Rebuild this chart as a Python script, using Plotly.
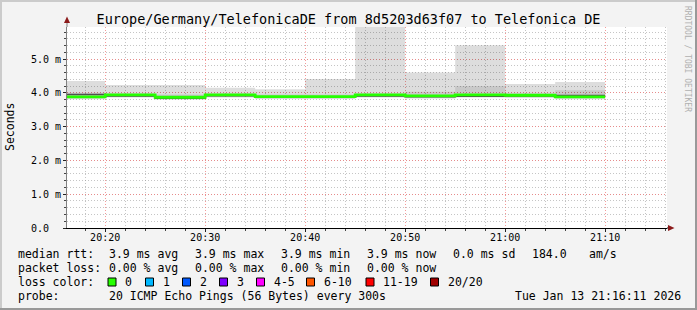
import plotly.graph_objects as go

# ---------------- data ----------------
title_text = "Europe/Germany/TelefonicaDE from 8d5203d63f07 to Telefonica DE"
day = "2026-01-13 "
seg_start = ["20:15", "20:20", "20:25", "20:30", "20:35", "20:40",
             "20:45", "20:50", "20:55", "21:00", "21:05"]
seg_end = "21:10"
median_ms = [3.88, 3.94, 3.87, 3.94, 3.89, 3.89, 3.94, 3.91, 3.94, 3.93, 3.88]
smoke_min_ms = [3.81, 3.86, 3.80, 3.86, 3.82, 3.82, 3.86, 3.83, 3.86, 3.85, 3.81]
smoke_max_ms = [4.35, 4.23, 4.23, 4.15, 4.11, 4.41, 6.30, 4.60, 5.41, 4.26, 4.32]
inner_lo_ms = [3.84, 3.88, 3.82, 3.88, 3.84, 3.84, 3.88, 3.86, 3.88, 3.88, 3.85]
inner_hi_ms = [4.00, 3.99, 3.95, 3.99, 3.95, 3.95, 3.99, 4.03, 4.20, 3.99, 4.08]
dark_ms = [3.95, 3.91, 3.84, 3.92, 3.87, 3.87, 3.91, 3.89, 3.90, 3.91, 3.92]

y_tickvals = [0, 1, 2, 3, 4, 5]
y_ticktext = ["0.0\u00a0\u00a0", "1.0 m", "2.0 m", "3.0 m", "4.0 m", "5.0 m"]

legend_rtt = ["median rtt:", "3.9 ms avg", "3.9 ms max", "3.9 ms min",
              "3.9 ms now", "0.0 ms sd", "184.0", "am/s"]
legend_loss = ["packet loss:", "0.00 % avg", "0.00 % max", "0.00 % min", "0.00 % now"]
loss_labels = ["0", "1", "2", "3", "4-5", "6-10", "11-19", "20/20"]
loss_colors = ["#26ff00", "#00b8ff", "#0059ff", "#7e00ff",
               "#ff00ff", "#ff5500", "#ff0000", "#a00000"]
probe_label = "probe:"
probe_text = "20 ICMP Echo Pings (56 Bytes) every 300s"
stamp_text = "Tue Jan 13 21:16:11 2026"
loss_color_label = "loss color:"
credit_text = "RRDTOOL / TOBI OETIKER"

# ---------------- geometry helpers (pixel -> paper) ----------------
W, H = 697, 310
PL, PR, PT, PB = 67, 667, 27, 228


def fx(px):
    return (px - PL) / (PR - PL)


def fy(py):
    return (PB - py) / (PB - PT)


MONO = "DejaVu Sans Mono"

xs = [day + s for s in seg_start] + [day + seg_end]


def step(vals):
    return list(vals) + [vals[-1]]


fig = go.Figure()

# smoke outer
fig.add_trace(go.Scatter(x=xs, y=step(smoke_min_ms), mode="lines", line_shape="hv",
                         line=dict(width=0), hoverinfo="skip", showlegend=False))
fig.add_trace(go.Scatter(x=xs, y=step(smoke_max_ms), mode="lines", line_shape="hv",
                         line=dict(width=0), fill="tonexty",
                         fillcolor="rgba(0,0,0,0.135)", hoverinfo="skip", showlegend=False))
# smoke inner
fig.add_trace(go.Scatter(x=xs, y=step(inner_lo_ms), mode="lines", line_shape="hv",
                         line=dict(width=0), hoverinfo="skip", showlegend=False))
fig.add_trace(go.Scatter(x=xs, y=step(inner_hi_ms), mode="lines", line_shape="hv",
                         line=dict(width=0), fill="tonexty",
                         fillcolor="rgba(0,0,0,0.09)", hoverinfo="skip", showlegend=False))
# dark core line
fig.add_trace(go.Scatter(x=xs, y=step(dark_ms), mode="lines", line_shape="hv",
                         line=dict(width=1.6, color="#505050"), hoverinfo="skip", showlegend=False))
# median
fig.add_trace(go.Scatter(x=xs, y=step(median_ms), mode="lines", line_shape="hv",
                         line=dict(width=2.8, color=loss_colors[0]), showlegend=False))

major_grid = "rgba(240,120,120,0.75)"
minor_grid = "rgba(150,150,150,0.55)"

fig.update_xaxes(
    type="date",
    range=[day + "20:16:11", day + "21:16:11"],
    tickformat="%H:%M",
    tick0=day + "20:00",
    dtick=600000,
    showgrid=True, gridcolor=major_grid, griddash="1px,2px", gridwidth=1,
    minor=dict(dtick=120000, tick0=day + "20:00", showgrid=True, gridcolor=minor_grid,
               griddash="1px,2px", ticks="outside", ticklen=2, tickcolor="#444"),
    ticks="outside", ticklen=3, tickcolor="#222",
    ticklabelstandoff=-3,
    showline=True, linecolor="#000", linewidth=1,
    tickfont=dict(family=MONO, size=10, color="#000"),
    zeroline=False, fixedrange=True,
)
fig.update_yaxes(
    range=[0, 5.95],
    tickvals=y_tickvals, ticktext=y_ticktext,
    showgrid=True, gridcolor=major_grid, griddash="1px,2px", gridwidth=1,
    minor=dict(dtick=0.2, tick0=0, showgrid=True, gridcolor=minor_grid,
               griddash="1px,2px", ticks="outside", ticklen=2, tickcolor="#444"),
    ticks="outside", ticklen=3, tickcolor="#222",
    showline=True, linecolor="#808080", linewidth=1,
    tickfont=dict(family=MONO, size=10, color="#000"),
    zeroline=False, fixedrange=True,
)

shapes = []
# image border (3D shade)
shapes.append(dict(type="rect", xref="paper", yref="paper",
                   x0=fx(0), x1=fx(697), y0=fy(0), y1=fy(2),
                   fillcolor="#cbcbcb", line=dict(width=0), layer="above"))
shapes.append(dict(type="rect", xref="paper", yref="paper",
                   x0=fx(0), x1=fx(2), y0=fy(0), y1=fy(310),
                   fillcolor="#cbcbcb", line=dict(width=0), layer="above"))
shapes.append(dict(type="rect", xref="paper", yref="paper",
                   x0=fx(695), x1=fx(697), y0=fy(0), y1=fy(310),
                   fillcolor="#999999", line=dict(width=0), layer="above"))
shapes.append(dict(type="rect", xref="paper", yref="paper",
                   x0=fx(0), x1=fx(697), y0=fy(308), y1=fy(310),
                   fillcolor="#999999", line=dict(width=0), layer="above"))
# axis extensions + arrows
shapes.append(dict(type="line", xref="paper", yref="paper",
                   x0=fx(67), x1=fx(67), y0=fy(27), y1=fy(20),
                   line=dict(color="#808080", width=1)))
shapes.append(dict(type="path", xref="paper", yref="paper",
                   path=f"M {fx(64)},{fy(23)} L {fx(70)},{fy(23)} L {fx(67)},{fy(16.5)} Z",
                   fillcolor="#8b1a1a", line=dict(width=0)))
shapes.append(dict(type="line", xref="paper", yref="paper",
                   x0=fx(667), x1=fx(669), y0=fy(228), y1=fy(228),
                   line=dict(color="#000", width=1)))
shapes.append(dict(type="path", xref="paper", yref="paper",
                   path=f"M {fx(668)},{fy(225)} L {fx(668)},{fy(231)} L {fx(674.5)},{fy(228)} Z",
                   fillcolor="#8b1a1a", line=dict(width=0)))

annotations = []


def txt(px, py, s, size=11.5, color="#000", anchor="left", angle=0):
    annotations.append(dict(text=s, xref="paper", yref="paper", x=fx(px), y=fy(py),
                            xanchor=anchor, yanchor="middle", showarrow=False,
                            textangle=angle,
                            font=dict(family=MONO, size=size, color=color)))


# legend line 1
rtt_x = [16, 107, 193, 279, 365, 451, 530, 587]
for px, s in zip(rtt_x, legend_rtt):
    txt(px, 254, s.replace(" ", "\u00a0"))
# legend line 2
loss_x = [16, 107, 193, 279, 365]
for px, s in zip(loss_x, legend_loss):
    txt(px, 268, s.replace(" ", "\u00a0"))
# legend line 3
txt(16, 282, loss_color_label.replace(" ", "\u00a0"))
box_x = [108, 145.5, 182.5, 219.5, 256.5, 306.5, 366, 430.5]
for bx, lab, col in zip(box_x, loss_labels, loss_colors):
    shapes.append(dict(type="rect", xref="paper", yref="paper",
                       x0=fx(bx), x1=fx(bx + 8), y0=fy(278), y1=fy(286),
                       fillcolor=col, line=dict(color="#000", width=1)))
    txt(bx + 15, 282, lab)
# legend line 4
txt(16, 296, probe_label)
txt(107, 296, probe_text.replace(" ", "\u00a0"))
txt(513, 296, stamp_text.replace(" ", "\u00a0"))

# y axis title
txt(10, 127, "Seconds", size=11.5, anchor="center", angle=-90)
# credit
txt(688, 59, credit_text.replace(" ", "\u00a0"), size=8, color="#b0b0b0", anchor="center", angle=90)

fig.update_layout(
    width=W, height=H,
    margin=dict(l=PL, r=W - PR, t=PT, b=H - PB, pad=0),
    paper_bgcolor="#f3f3f3",
    plot_bgcolor="#ffffff",
    title=dict(text=title_text, x=0.5, xanchor="center", xref="paper",
               y=1 - 19 / H, yanchor="middle",
               font=dict(family=MONO, size=13.5, color="#000")),
    shapes=shapes,
    annotations=annotations,
    showlegend=False,
)
fig.update_layout(title_x=(348.5 - PL) / (PR - PL))

fig.write_html("out.html", config={"displayModeBar": False})
